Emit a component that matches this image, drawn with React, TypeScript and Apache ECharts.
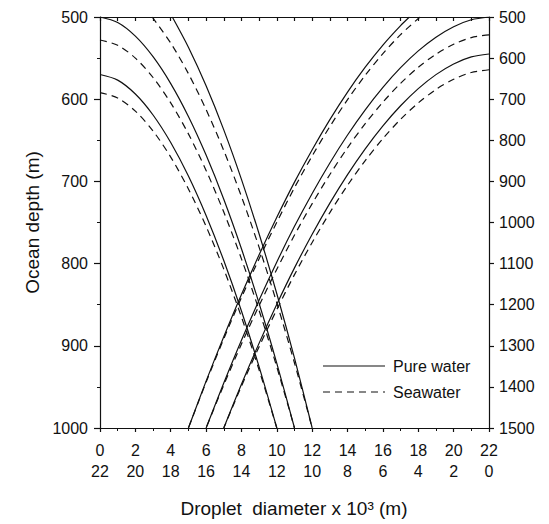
import React, { useEffect, useRef } from "react";
import * as echarts from "echarts";

// Droplet diameter (x 10^3 m) vs ocean depth (m)
// Family A: bottom axis 0→22, left depth axis 500–1000
const pureA1 = [[0, 500], [1, 506.7], [2, 523.3], [3, 548.3], [4, 581], [5, 621], [6, 668], [7, 721.7], [8, 782], [9, 848.6], [10, 921.4], [11, 1000]];
const pureA2 = [[4.09, 500], [5, 536.8], [6, 583.7], [7, 637.3], [8, 697.5], [9, 764], [10, 836.7], [11, 915.1], [12, 1000]];
const pureA3 = [[0, 570], [1, 576.8], [2, 593.7], [3, 619.2], [4, 652.7], [5, 693.5], [6, 741.5], [7, 796.3], [8, 857.7], [9, 925.7], [10, 1000]];
const seaA1 = [[0, 528], [1, 534.3], [2, 550], [3, 573.6], [4, 604.5], [5, 642.2], [6, 686.6], [7, 737.3], [8, 794.2], [9, 857.1], [10, 925.8], [11, 1000]];
const seaA2 = [[2.95, 500], [4, 531.7], [5, 568.9], [6, 612.6], [7, 662.4], [8, 718.4], [9, 780.3], [10, 847.9], [11, 920.9], [12, 1000]];
const seaA3 = [[0, 592], [1, 598.5], [2, 614.5], [3, 638.7], [4, 670.4], [5, 709.2], [6, 754.7], [7, 806.7], [8, 865], [9, 929.5], [10, 1000]];
// Family B: reversed bottom axis 22→0, right depth axis 500–1500
const pureB1 = [[0, 500], [1, 506.8], [2, 523.7], [3, 549.2], [4, 582.5], [5, 623.3], [6, 671.2], [7, 725.9], [8, 787.2], [9, 855.1], [10, 929.3], [11, 1009.3], [12, 1096], [13, 1188.5], [14, 1286.4], [15, 1390.5], [16, 1500]];
const pureB2 = [[4.5, 500], [5, 521], [6, 568.3], [7, 622.2], [8, 682.7], [9, 749.7], [10, 822.9], [11, 901.8], [12, 987.4], [13, 1078.6], [14, 1175.2], [15, 1277.9], [16, 1386], [17, 1500]];
const pureB3 = [[0, 590], [1, 597], [2, 614.2], [3, 640.2], [4, 674.3], [5, 716], [6, 764.9], [7, 820.8], [8, 883.5], [9, 952.9], [10, 1028.7], [11, 1110.4], [12, 1199.1], [13, 1293.5], [14, 1393.7], [15, 1500]];
const seaB1 = [[0, 543.5], [1, 550], [2, 566.2], [3, 590.5], [4, 622.4], [5, 661.4], [6, 707.2], [7, 759.5], [8, 818.2], [9, 883.2], [10, 954.1], [11, 1030.6], [12, 1113.6], [13, 1202], [14, 1295.7], [15, 1395.3], [16, 1500]];
const seaB2 = [[3.9, 500], [5, 542.9], [6, 589.1], [7, 641.8], [8, 701], [9, 766.5], [10, 838], [11, 915.2], [12, 999.3], [13, 1088], [14, 1182.5], [15, 1282.8], [16, 1388.5], [17, 1500]];
const seaB3 = [[0, 628.3], [1, 635], [2, 651.5], [3, 676.4], [4, 709.1], [5, 749], [6, 795.8], [7, 849.4], [8, 909.4], [9, 975.9], [10, 1048.5], [11, 1126.8], [12, 1211.7], [13, 1302.2], [14, 1398.1], [15, 1500]];

const leftDepthRange = [500, 1000];
const rightDepthRange = [500, 1500];
const diameterRange = [0, 22];

const legendNames = ["Pure water", "Seawater"];
const yTitle = "Ocean depth (m)";
const xTitle = "Droplet  diameter x 10³ (m)";

const INK = "#111";
const FONT = "'Liberation Sans', Arial, Helvetica, sans-serif";

export default function App() {
  const ref = useRef<HTMLDivElement>(null);

  useEffect(() => {
    document.body.style.margin = "0";
    if (!ref.current) return;
    const chart = echarts.init(ref.current, undefined, { renderer: "svg" });

    const line = (name: string, data: number[][], dashed: boolean, fam: "A" | "B") => ({
      type: "line",
      name,
      data,
      xAxisIndex: fam === "A" ? 0 : 1,
      yAxisIndex: fam === "A" ? 0 : 1,
      smooth: 0.3,
      showSymbol: false,
      symbol: "none",
      silent: true,
      lineStyle: { color: INK, width: 1.2, type: dashed ? [7, 5] : "solid" },
    });

    const axisLineStyle = { color: INK, width: 1.2 };
    const plain = (v: number) => String(v);
    const labelStyle = { fontSize: 16, color: INK, fontFamily: FONT, formatter: plain };

    chart.setOption({
      animation: false,
      backgroundColor: "#fff",
      grid: { left: 100, top: 17, width: 389, height: 411 },
      xAxis: [
        {
          type: "value",
          position: "bottom",
          min: diameterRange[0],
          max: diameterRange[1],
          interval: 2,
          axisLine: { show: true, onZero: false, lineStyle: axisLineStyle },
          axisTick: { show: true, length: 4, lineStyle: axisLineStyle },
          minorTick: { show: true, splitNumber: 2, length: 3, lineStyle: { color: INK } },
          axisLabel: { ...labelStyle, margin: 14 },
          splitLine: { show: false },
        },
        {
          type: "value",
          position: "bottom",
          offset: 21,
          inverse: true,
          min: diameterRange[0],
          max: diameterRange[1],
          interval: 2,
          axisLine: { show: false, onZero: false },
          axisTick: { show: false },
          axisLabel: { ...labelStyle, margin: 14 },
          splitLine: { show: false },
        },
        {
          type: "value",
          position: "top",
          min: diameterRange[0],
          max: diameterRange[1],
          interval: 1,
          axisLine: { show: true, onZero: false, lineStyle: axisLineStyle },
          axisTick: { show: true, inside: true, length: 4, lineStyle: axisLineStyle },
          axisLabel: { show: false },
          splitLine: { show: false },
        },
      ],
      yAxis: [
        {
          type: "value",
          position: "left",
          inverse: true,
          min: leftDepthRange[0],
          max: leftDepthRange[1],
          interval: 100,
          name: yTitle,
          nameLocation: "middle",
          nameGap: 56,
          nameTextStyle: { fontSize: 19, color: INK, fontFamily: FONT },
          axisLine: { show: true, onZero: false, lineStyle: axisLineStyle },
          axisTick: { show: true, length: 6, lineStyle: axisLineStyle },
          minorTick: { show: true, splitNumber: 2, length: 3, lineStyle: { color: INK } },
          axisLabel: { ...labelStyle, margin: 12 },
          splitLine: { show: false },
        },
        {
          type: "value",
          position: "right",
          inverse: true,
          min: rightDepthRange[0],
          max: rightDepthRange[1],
          interval: 100,
          axisLine: { show: true, onZero: false, lineStyle: axisLineStyle },
          axisTick: { show: true, length: 5, lineStyle: axisLineStyle },
          axisLabel: { ...labelStyle, margin: 10 },
          splitLine: { show: false },
        },
      ],
      graphic: [
        {
          type: "text",
          x: 294,
          y: 508,
          style: { text: xTitle, fontSize: 19, fill: INK, fontFamily: FONT, align: "center", verticalAlign: "middle" },
        },
        { type: "line", shape: { x1: 323, y1: 366, x2: 385, y2: 366 }, style: { stroke: INK, lineWidth: 1.2 } },
        { type: "line", shape: { x1: 323, y1: 392, x2: 385, y2: 392 }, style: { stroke: INK, lineWidth: 1.2, lineDash: [7, 5] } },
        { type: "text", x: 393, y: 366, style: { text: legendNames[0], fontSize: 16, fill: INK, fontFamily: FONT, verticalAlign: "middle" } },
        { type: "text", x: 393, y: 392, style: { text: legendNames[1], fontSize: 16, fill: INK, fontFamily: FONT, verticalAlign: "middle" } },
      ],
      series: [
        line(legendNames[0], pureA1, false, "A"),
        line(legendNames[0], pureA2, false, "A"),
        line(legendNames[0], pureA3, false, "A"),
        line(legendNames[1], seaA1, true, "A"),
        line(legendNames[1], seaA2, true, "A"),
        line(legendNames[1], seaA3, true, "A"),
        line(legendNames[0], pureB1, false, "B"),
        line(legendNames[0], pureB2, false, "B"),
        line(legendNames[0], pureB3, false, "B"),
        line(legendNames[1], seaB1, true, "B"),
        line(legendNames[1], seaB2, true, "B"),
        line(legendNames[1], seaB3, true, "B"),
      ],
    });

    return () => chart.dispose();
  }, []);

  return <div ref={ref} style={{ width: 549, height: 524 }} />;
}
